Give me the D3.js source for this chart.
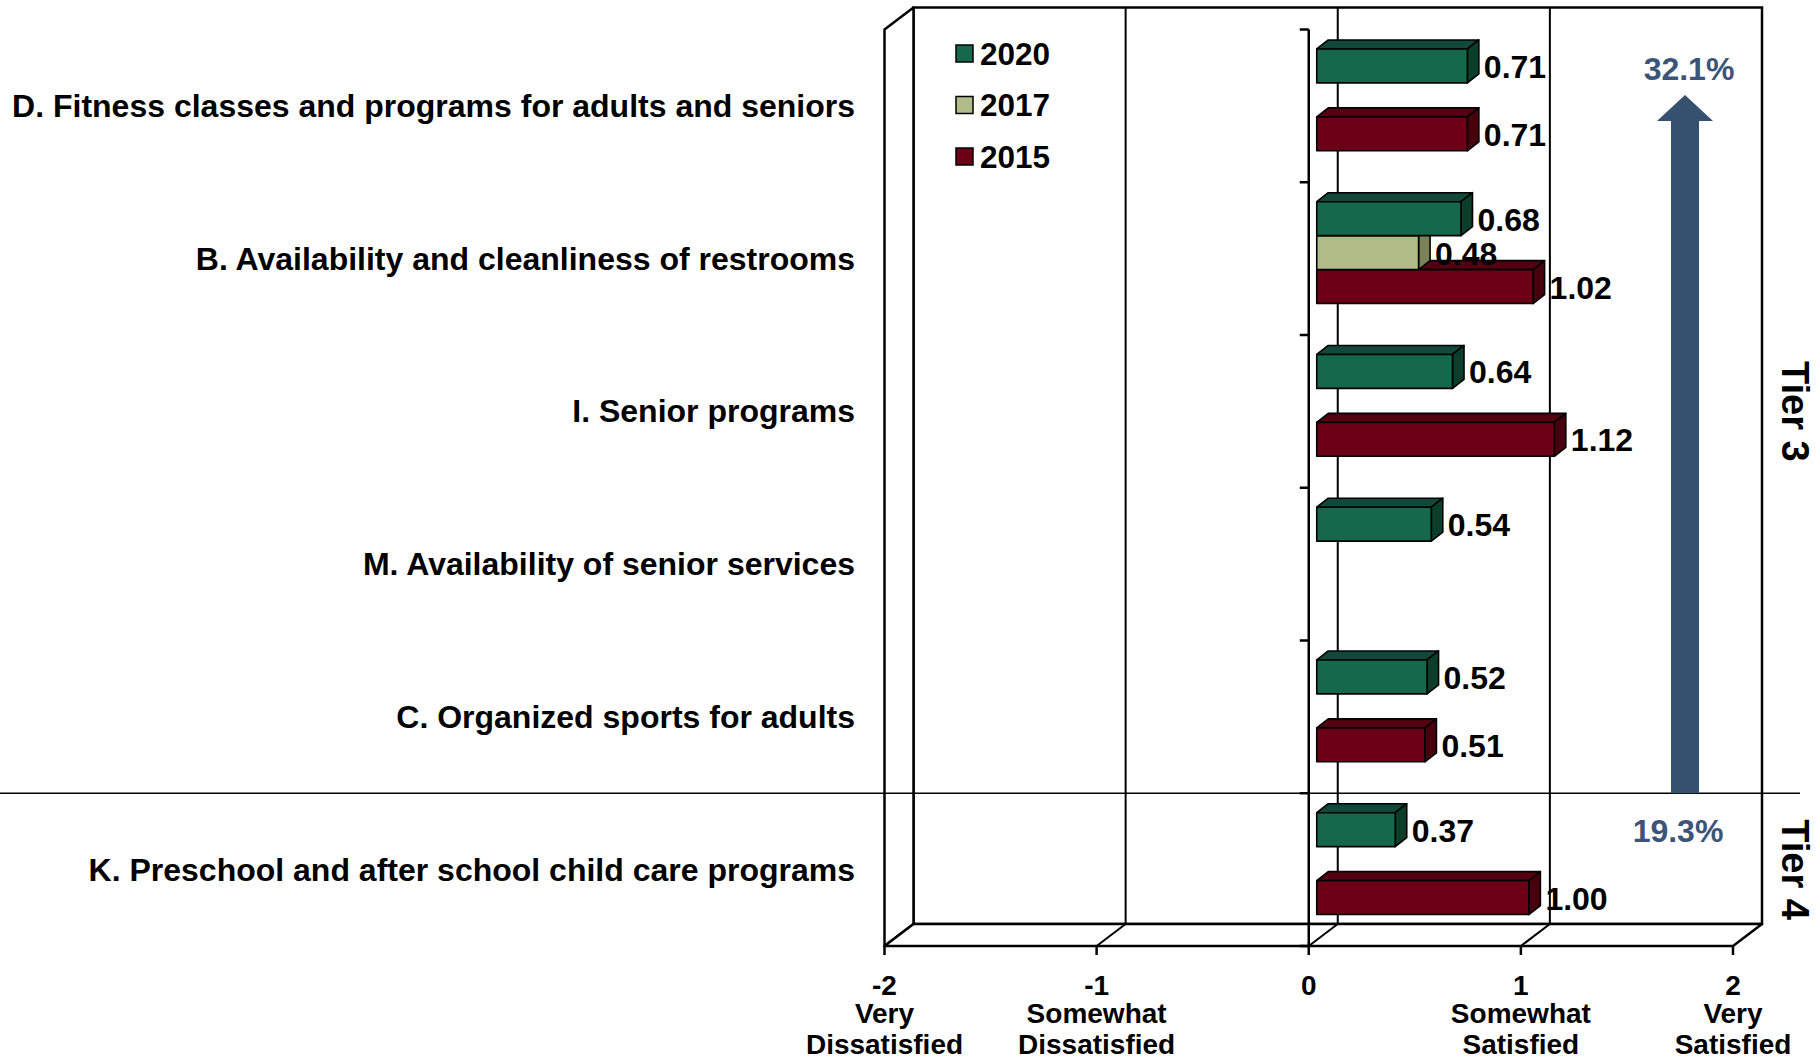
<!DOCTYPE html>
<html>
<head>
<meta charset="utf-8">
<script src="https://cdn.jsdelivr.net/npm/d3@7"></script>
<style>
  html, body { margin: 0; padding: 0; background: #fff; }
  svg { display: block; }
  text { font-family: "Liberation Sans", Arial, sans-serif; font-weight: bold; }
</style>
</head>
<body>
<svg id="chart" width="1820" height="1061"></svg>
<script>
// Satisfaction ratings by program, three survey years
const categories = [
  "D. Fitness classes and programs for adults and seniors",
  "B. Availability and cleanliness of restrooms",
  "I. Senior programs",
  "M. Availability of senior services",
  "C. Organized sports for adults",
  "K. Preschool and after school child care programs"
];
const seriesNames = ["2020", "2017", "2015"];
const values2020 = [0.71, 0.68, 0.64, 0.54, 0.52, 0.37];
const values2017 = [null, 0.48, null, null, null, null];
const values2015 = [0.71, 1.02, 1.12, null, 0.51, 1.00];

const tickValues = [-2, -1, 0, 1, 2];
const tickLabels = [
  ["-2", "Very", "Dissatisfied"],
  ["-1", "Somewhat", "Dissatisfied"],
  ["0"],
  ["1", "Somewhat", "Satisfied"],
  ["2", "Very", "Satisfied"]
];

const tierNames = ["Tier 3", "Tier 4"];
const tierStart = [0, 5];   // index of first category in each tier
const tierEnd = [5, 6];
const tierShares = ["32.1%", "19.3%"];

// palette: front face, top face, side face
const colors = {
  "2020": ["#16684c", "#10493a", "#0c3e2c"],
  "2017": ["#b2bc88", "#8e9668", "#7b8259"],
  "2015": ["#6c0016", "#540012", "#48000f"]
};

const valuesBySeries = { "2020": values2020, "2017": values2017, "2015": values2015 };

const svg = d3.select("#chart");

// front plane of the 3D box
const x = d3.scaleLinear().domain([-2, 2]).range([884.5, 1733]);
const y = d3.scaleBand().domain(categories).range([29.5, 946]);
const slot = d3.scaleBand().domain(seriesNames).range([0, y.bandwidth()]).paddingOuter(0.75).paddingInner(0);

const depth = { dx: 29, dy: -22 };          // wall depth
const barShift = { dx: 8, dy: -6 };         // bar front faces sit slightly into the box
const barDepth = { dx: 11.5, dy: -9 };      // thickness of each bar

const yTop = y.range()[0], yBot = y.range()[1];
const xL = x(-2), xR = x(2);

const frame = svg.append("g").attr("fill", "none").attr("stroke", "#000");

// back wall
frame.append("rect")
  .attr("x", xL + depth.dx).attr("y", yTop + depth.dy)
  .attr("width", xR - xL).attr("height", yBot - yTop)
  .attr("fill", "#fff").attr("stroke-width", 2.5);

// left wall
frame.append("polygon")
  .attr("points", [[xL, yTop], [xL + depth.dx, yTop + depth.dy], [xL + depth.dx, yBot + depth.dy], [xL, yBot]].join(" "))
  .attr("fill", "#fff").attr("stroke-width", 2.5).attr("stroke-linejoin", "round");

// floor
frame.append("polygon")
  .attr("points", [[xL, yBot], [xR, yBot], [xR + depth.dx, yBot + depth.dy], [xL + depth.dx, yBot + depth.dy]].join(" "))
  .attr("fill", "#fff").attr("stroke-width", 2.5).attr("stroke-linejoin", "round");

// gridlines on back wall and floor
const inner = tickValues.filter(v => v > -2 && v < 2);
frame.selectAll(".gridV").data(inner).join("line")
  .attr("x1", d => x(d) + depth.dx).attr("x2", d => x(d) + depth.dx)
  .attr("y1", yTop + depth.dy).attr("y2", yBot + depth.dy)
  .attr("stroke-width", 2);
frame.selectAll(".gridF").data(inner).join("line")
  .attr("x1", d => x(d)).attr("y1", yBot)
  .attr("x2", d => x(d) + depth.dx).attr("y2", yBot + depth.dy)
  .attr("stroke-width", 2);

// value axis ticks along the front edge
frame.selectAll(".tickX").data(tickValues).join("line")
  .attr("x1", d => x(d)).attr("x2", d => x(d))
  .attr("y1", yBot).attr("y2", yBot + 9)
  .attr("stroke-width", 2.5);

// category axis at zero with ticks between categories
frame.append("line")
  .attr("x1", x(0)).attr("x2", x(0)).attr("y1", yTop).attr("y2", yBot)
  .attr("stroke-width", 2.5);
const boundaries = categories.map(c => y(c)).concat([yBot]);
frame.selectAll(".tickY").data(boundaries).join("line")
  .attr("x1", x(0) - 9).attr("x2", x(0))
  .attr("y1", d => d).attr("y2", d => d)
  .attr("stroke-width", 2.5);

// bars, drawn from the bottom up so upper bars overlap lower top faces
const bars = [];
categories.forEach((c, i) => {
  seriesNames.forEach(s => {
    const v = valuesBySeries[s][i];
    if (v == null) return;
    bars.push({ cat: c, series: s, value: v });
  });
});
const barOrder = bars.slice().sort((a, b) => (y(b.cat) + slot(b.series)) - (y(a.cat) + slot(a.series)));

const barG = svg.append("g")
  .attr("stroke", "#000").attr("stroke-width", 1.6).attr("stroke-linejoin", "round");

barOrder.forEach(d => {
  const x0 = x(0) + barShift.dx;
  const x1 = x(d.value) + barShift.dx;
  const y0 = y(d.cat) + slot(d.series) + barShift.dy;
  const y1 = y0 + slot.bandwidth();
  const c = colors[d.series];
  const g = barG.append("g");
  g.append("polygon")
    .attr("points", [[x0, y0], [x0 + barDepth.dx, y0 + barDepth.dy], [x1 + barDepth.dx, y0 + barDepth.dy], [x1, y0]].join(" "))
    .attr("fill", c[1]);
  g.append("polygon")
    .attr("points", [[x1, y0], [x1 + barDepth.dx, y0 + barDepth.dy], [x1 + barDepth.dx, y1 + barDepth.dy], [x1, y1]].join(" "))
    .attr("fill", c[2]);
  g.append("rect")
    .attr("x", x0).attr("y", y0).attr("width", x1 - x0).attr("height", y1 - y0)
    .attr("fill", c[0]);
});

// value labels
svg.append("g").selectAll("text").data(bars).join("text")
  .attr("x", d => x(d.value) + barShift.dx + barDepth.dx + 5)
  .attr("y", d => y(d.cat) + slot(d.series) + barShift.dy + slot.bandwidth() / 2 + 12)
  .attr("font-size", 32)
  .attr("fill", "#000")
  .text(d => d.value.toFixed(2));

// category labels
svg.append("g").selectAll("text").data(categories).join("text")
  .attr("x", 855)
  .attr("y", d => y(d) + y.bandwidth() / 2 + 11)
  .attr("text-anchor", "end")
  .attr("font-size", 32)
  .attr("fill", "#000")
  .text(d => d);

// value axis labels
const tl = svg.append("g").attr("text-anchor", "middle").attr("font-size", 28).attr("fill", "#000");
tickValues.forEach((v, i) => {
  const t = tl.append("text").attr("x", x(v)).attr("y", 995);
  tickLabels[i].forEach((line, j) => {
    t.append("tspan").attr("x", x(v)).attr("dy", j === 0 ? 0 : (j === 1 ? 28 : 31)).text(line);
  });
});

// legend
const legend = svg.append("g").attr("transform", "translate(956,53.5)");
seriesNames.forEach((s, i) => {
  const row = legend.append("g").attr("transform", `translate(0,${i * 51.5})`);
  row.append("rect").attr("x", 0).attr("y", -8.5).attr("width", 17).attr("height", 17)
    .attr("fill", colors[s][0]).attr("stroke", "#000").attr("stroke-width", 1.5);
  row.append("text").attr("x", 24).attr("y", 11).attr("font-size", 31.5).attr("fill", "#000").text(s);
});

// tier divider
const tierBreak = y(categories[tierStart[1]]);
svg.append("line")
  .attr("x1", 0).attr("x2", 1800).attr("y1", tierBreak).attr("y2", tierBreak)
  .attr("stroke", "#000").attr("stroke-width", 1.6);

// tier labels along the right edge
tierNames.forEach((name, i) => {
  const cy = (y(categories[tierStart[i]]) + (tierEnd[i] < categories.length ? y(categories[tierEnd[i]]) : yBot)) / 2;
  svg.append("text")
    .attr("transform", `translate(1782,${cy}) rotate(90)`)
    .attr("text-anchor", "middle")
    .attr("font-size", 38)
    .attr("fill", "#000")
    .text(name);
});

// trend arrow from Tier 4 share up to Tier 3 share
const arrowColor = "#36506f";
const ax = 1685;
svg.append("path")
  .attr("d", `M${ax - 14},${tierBreak} L${ax - 14},121 L${ax - 28},121 L${ax},95 L${ax + 28},121 L${ax + 14},121 L${ax + 14},${tierBreak} Z`)
  .attr("fill", arrowColor);

svg.append("text").attr("x", 1689).attr("y", 80).attr("text-anchor", "middle")
  .attr("font-size", 32).attr("fill", "#3b5478").text(tierShares[0]);
svg.append("text").attr("x", 1678).attr("y", 842).attr("text-anchor", "middle")
  .attr("font-size", 32).attr("fill", "#3b5478").text(tierShares[1]);
</script>
</body>
</html>
